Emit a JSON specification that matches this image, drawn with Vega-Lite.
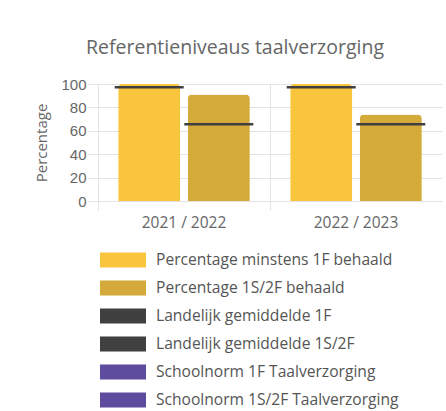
{
  "$schema": "https://vega.github.io/schema/vega-lite/v6.json",
  "width": 344,
  "height": 117,
  "autosize": {"type": "none"},
  "padding": {"left": 98, "top": 84, "right": 4, "bottom": 210},
  "background": "white",
  "title": {
    "text": "Referentieniveaus taalverzorging",
    "anchor": "middle",
    "frame": "group",
    "dx": -35,
    "offset": 19,
    "font": "Open Sans",
    "fontSize": 19.5,
    "fontWeight": "normal",
    "color": "#666666"
  },
  "data": {
    "values": [
      {"year": "2021 / 2022", "group": "1F", "kind": "bar", "series": "Percentage minstens 1F behaald", "value": 100},
      {"year": "2021 / 2022", "group": "1S/2F", "kind": "bar", "series": "Percentage 1S/2F behaald", "value": 91},
      {"year": "2022 / 2023", "group": "1F", "kind": "bar", "series": "Percentage minstens 1F behaald", "value": 100},
      {"year": "2022 / 2023", "group": "1S/2F", "kind": "bar", "series": "Percentage 1S/2F behaald", "value": 74},
      {"year": "2021 / 2022", "group": "1F", "kind": "line", "series": "Landelijk gemiddelde 1F", "value": 97.3},
      {"year": "2021 / 2022", "group": "1S/2F", "kind": "line", "series": "Landelijk gemiddelde 1S/2F", "value": 65.5},
      {"year": "2022 / 2023", "group": "1F", "kind": "line", "series": "Landelijk gemiddelde 1F", "value": 97.3},
      {"year": "2022 / 2023", "group": "1S/2F", "kind": "line", "series": "Landelijk gemiddelde 1S/2F", "value": 65.5}
    ]
  },
  "encoding": {
    "x": {
      "field": "year",
      "type": "nominal",
      "scale": {"paddingInner": 0, "paddingOuter": 0},
      "axis": {
        "title": null,
        "grid": true,
        "bandPosition": 0,
        "labelAngle": 0,
        "labelFont": "Open Sans",
        "labelFontSize": 15.5,
        "labelColor": "#666666",
        "labelPadding": 5,
        "tickSize": 9,
        "tickColor": "#e3e3e3",
        "domainColor": "#e3e3e3",
        "gridColor": "#e3e3e3"
      }
    },
    "xOffset": {
      "field": "group",
      "type": "nominal",
      "scale": {"domain": ["1F", "1S/2F"], "paddingInner": 0.108, "paddingOuter": 0.29}
    },
    "y": {
      "field": "value",
      "type": "quantitative",
      "scale": {"domain": [0, 100]},
      "axis": {
        "title": "Percentage",
        "titleFont": "Open Sans",
        "titleFontSize": 15,
        "titleFontWeight": "normal",
        "titleColor": "#666666",
        "titlePadding": 11,
        "values": [0, 20, 40, 60, 80, 100],
        "labelFont": "Liberation Sans",
        "labelFontSize": 15,
        "labelColor": "#666666",
        "labelPadding": 2,
        "tickSize": 10,
        "tickColor": "#e3e3e3",
        "domainColor": "#e3e3e3",
        "gridColor": "#e3e3e3"
      }
    },
    "color": {
      "field": "series",
      "type": "nominal",
      "scale": {
        "domain": ["Percentage minstens 1F behaald", "Percentage 1S/2F behaald", "Landelijk gemiddelde 1F", "Landelijk gemiddelde 1S/2F", "Schoolnorm 1F Taalverzorging", "Schoolnorm 1S/2F Taalverzorging"],
        "range": ["#F9C53C", "#D4AA3B", "#404040", "#404040", "#5E4D9F", "#5E4D9F"]
      },
      "legend": {
        "title": null,
        "orient": "none",
        "legendX": 2,
        "legendY": 162,
        "symbolType": "M-1,-0.33H1V0.33H-1Z",
        "symbolSize": 2116,
        "symbolStrokeWidth": 0,
        "symbolOpacity": 1,
        "labelFont": "Open Sans",
        "labelFontSize": 15.6,
        "labelColor": "#555555",
        "labelLimit": 400,
        "clipHeight": 28,
        "rowPadding": 0,
        "labelOffset": 10
      }
    }
  },
  "layer": [
    {
      "transform": [{"filter": "datum.kind === 'bar'"}],
      "mark": {"type": "bar", "cornerRadiusTopLeft": 4, "cornerRadiusTopRight": 4, "opacity": 1}
    },
    {
      "transform": [{"filter": "datum.kind === 'line'"}],
      "mark": {"type": "tick", "orient": "horizontal", "size": 69, "thickness": 2.5, "opacity": 1}
    }
  ],
  "config": {"view": {"stroke": null}}
}
